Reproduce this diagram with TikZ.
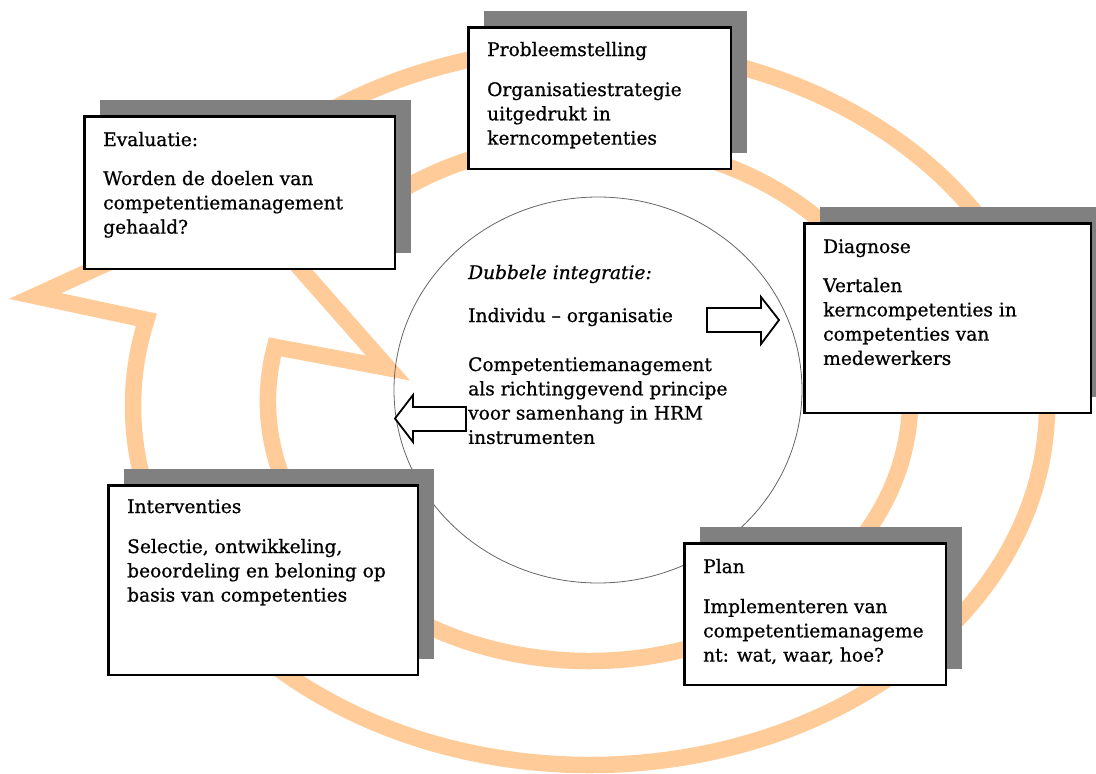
\documentclass[tikz,border=0pt]{standalone}
\usepackage{fontspec}
\setmainfont{DejaVu Serif}[FakeBold=0.8]
\usetikzlibrary{shadows}
\definecolor{peach}{HTML}{FFCC99}
\definecolor{shade}{HTML}{808080}
\begin{document}
\begin{tikzpicture}[x=1pt,y=-1pt,
  band/.style={draw=peach, line width=16.5pt, fill=white, line join=miter, miter limit=20},
  card/.style={draw=black, line width=2.5pt, fill=white, rectangle, inner sep=0pt,
    drop shadow={shadow xshift=16pt, shadow yshift=16pt, fill=shade, opacity=1}},
  txt/.style={anchor=base west, inner sep=0pt, font=\fontsize{18.6}{24.3}\selectfont, align=left},
  blockarrow/.style={draw=black, line width=1.8pt, fill=white, line join=miter},
  ring/.style={draw=black!60, line width=0.8pt}
]
\useasboundingbox (0,0) rectangle (1096,774);

% spiral band with arrowhead
\draw[band] (590,406) ++(-140:457 and 359)
  arc[start angle=-140, end angle=193.9, x radius=457, y radius=359]
  -- (35,296) -- (241.6,202) -- (388,368) -- (275,346.9)
  arc[start angle=192, end angle=-140, x radius=321, y radius=260] -- cycle;

% central circle
\draw[ring] (598,390) ellipse [x radius=204, y radius=193];

% block arrows
\draw[blockarrow] (707,308) -- (761,308) -- (761,297) -- (779,320) -- (761,344) -- (761,332) -- (707,332) -- cycle;
\draw[blockarrow] (466,407) -- (413,407) -- (413,395) -- (395,418.5) -- (413,442) -- (413,431) -- (466,431) -- cycle;

% boxes
\node[card, minimum width=262.5pt, minimum height=141.5pt] (prob) at (599.5,98) {};
\node[card, minimum width=310.5pt, minimum height=152.5pt] (eval) at (239.5,192.5) {};
\node[card, minimum width=286.5pt, minimum height=189.5pt] (diag) at (947.5,318) {};
\node[card, minimum width=309.5pt, minimum height=189.5pt] (interv) at (263,580) {};
\node[card, minimum width=261.5pt, minimum height=141.5pt] (plan) at (815,614) {};

% box texts (base anchor of a multi-line node = last line)
\node[txt] (probT) at (487,56) {Probleemstelling};
\node[txt] (probP) at (487,144.6) {Organisatiestrategie\\uitgedrukt in\\kerncompetenties};
\node[txt] (evalT) at (103,146) {Evaluatie:};
\node[txt] (evalP) at (103,233.6) {Worden de doelen van\\competentiemanagement\\gehaald?};
\node[txt] (diagT) at (823,253) {Diagnose};
\node[txt] (diagP) at (823,364.9) {Vertalen\\kerncompetenties in\\competenties van\\medewerkers};
\node[txt] (intT) at (127,513) {Interventies};
\node[txt] (intP) at (127,601.6) {Selectie, ontwikkeling,\\beoordeling en beloning op\\basis van competenties};
\node[txt] (planT) at (703,573) {Plan};
\node[txt] (planP) at (703,661.6) {Implementeren van\\competentiemanageme\\nt: wat, waar, hoe?};

% centre texts
\node[txt, font=\fontsize{18.6}{24.3}\selectfont\itshape] (dub) at (468,279) {Dubbele integratie:};
\node[txt] (indiv) at (468,322) {Individu – organisatie};
\node[txt] (comp) at (468,443.9) {Competentiemanagement\\als richtinggevend principe\\voor samenhang in HRM\\instrumenten};
\end{tikzpicture}
\end{document}
